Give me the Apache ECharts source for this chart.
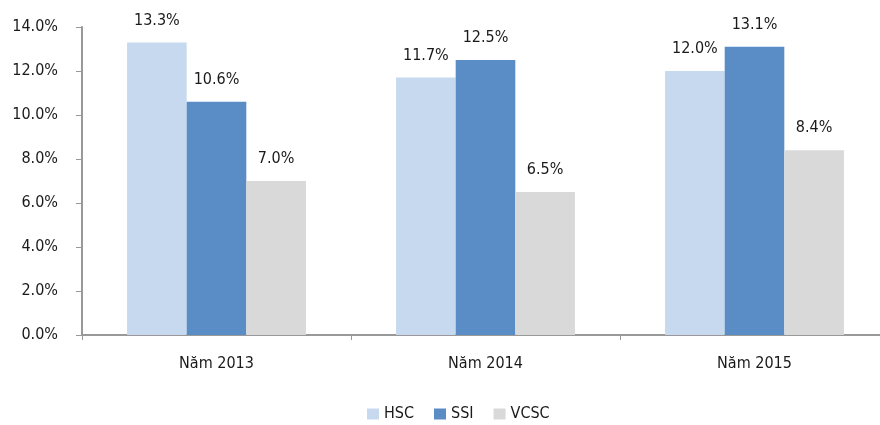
<!DOCTYPE html>
<html>
<head>
<meta charset="utf-8">
<script src="https://cdn.jsdelivr.net/npm/echarts@6/dist/echarts.min.js"></script>
<style>
html,body{margin:0;padding:0;background:#fff;}
#main{width:880px;height:425px;}
</style>
</head>
<body>
<div id="main"></div>
<script>
// categories and series values (%)
var years = ['Năm 2013', 'Năm 2014', 'Năm 2015'];
var hsc = [13.3, 11.7, 12.0];
var ssi = [10.6, 12.5, 13.1];
var vcsc = [7.0, 6.5, 8.4];

var FONT = '"DejaVu Sans Condensed", "Liberation Sans Narrow", sans-serif';
var TXT = '#1a1a1a';

var chart = echarts.init(document.getElementById('main'));

function mkSeries(name, data, color){
    return {
        name: name,
        type: 'bar',
        data: data,
        barGap: '0%',
        barCategoryGap: '33.5%',
        itemStyle: {color: color},
        label: {
            show: true,
            position: 'top',
            distance: 14,
            formatter: function(p){ return p.value.toFixed(1) + '%'; },
            color: TXT,
            fontFamily: FONT,
            fontSize: 16
        }
    };
}

chart.setOption({
    animation: false,
    grid: {left: 82, right: -9, top: 27, bottom: 90, outerBoundsMode: 'none'},
    legend: {
        top: 401,
        left: 362,
        itemWidth: 12,
        itemHeight: 11,
        itemGap: 20,
        icon: 'rect',
        textStyle: {color: TXT, fontFamily: FONT, fontSize: 16},
        data: ['HSC', 'SSI', 'VCSC']
    },
    xAxis: {
        type: 'category',
        data: years,
        axisLine: {lineStyle: {color: '#999', width: 2}},
        axisTick: {show: true, length: 5, lineStyle: {color: '#999'}},
        axisLabel: {color: TXT, fontFamily: FONT, fontSize: 16, margin: 21}
    },
    yAxis: {
        type: 'value',
        min: 0,
        max: 14,
        interval: 2,
        axisLine: {show: true, lineStyle: {color: '#999', width: 2}},
        axisTick: {show: true, length: 6, lineStyle: {color: '#999'}},
        splitLine: {show: false},
        axisLabel: {
            color: TXT, fontFamily: FONT, fontSize: 16, margin: 24,
            formatter: function(v){ return v.toFixed(1) + '%'; }
        }
    },
    series: [
        mkSeries('HSC', hsc, '#c6d9ee'),
        mkSeries('SSI', ssi, '#5a8dc5'),
        mkSeries('VCSC', vcsc, '#d9d9d9')
    ]
});
</script>
</body>
</html>
